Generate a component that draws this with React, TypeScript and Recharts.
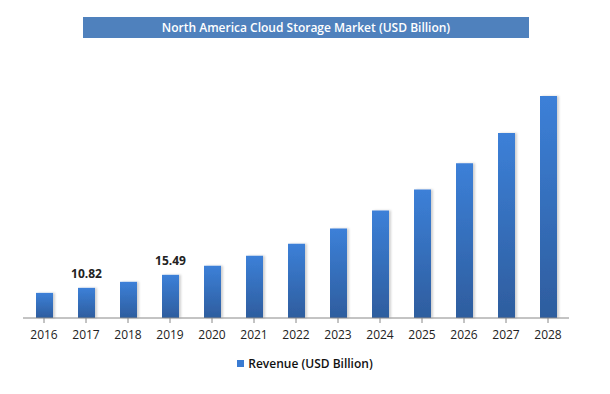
import { BarChart, Bar, XAxis, YAxis, Legend, LabelList } from 'recharts';

const years = ['2016', '2017', '2018', '2019', '2020', '2021', '2022', '2023', '2024', '2025', '2026', '2027', '2028'];
const revenue = [9.01, 10.82, 12.98, 15.49, 18.75, 22.35, 26.68, 32.08, 38.57, 46.14, 55.52, 66.33, 79.67];
const labelledYears = ['2017', '2019'];

const data = years.map((year, i) => ({ year, revenue: revenue[i] }));

const FONT = '"Open Sans", sans-serif';

const renderLabel = (props: any) => {
  const { x, y, width, value, index } = props;
  if (!labelledYears.includes(years[index])) return null;
  return (
    <text x={x + width / 2} y={y - 10} textAnchor="middle" fontFamily={FONT} fontSize={12} fontWeight="bold" fill="#222">
      {value.toFixed(2)}
    </text>
  );
};

const renderLegend = () => (
  <div style={{ display: 'flex', justifyContent: 'center', alignItems: 'center', fontFamily: FONT, fontSize: 12, fontWeight: 600, color: '#111' }}>
    <span style={{ display: 'inline-block', width: 7, height: 7, background: '#3A7BD2', marginRight: 4 }} />
    Revenue (USD Billion)
  </div>
);

const App = () => {
  return (
    <div style={{ position: 'absolute', left: 0, top: 0, width: 610, height: 394, background: '#fff' }}>
      <div
        style={{
          position: 'absolute', left: 83, top: 17, width: 446, height: 21,
          background: '#4F81BD', color: '#fff', fontFamily: FONT, fontSize: 12, fontWeight: 600,
          display: 'flex', alignItems: 'center', justifyContent: 'center',
        }}
      >
        North America Cloud Storage Market (USD Billion)
      </div>
      <BarChart width={610} height={394} data={data} margin={{ top: 95, right: 41, left: 23, bottom: 29 }}>
        <defs>
          <linearGradient id="barGrad" x1="0" y1="0" x2="0" y2="1">
            <stop offset="0%" stopColor="#3C80D8" />
            <stop offset="100%" stopColor="#2E5D9E" />
          </linearGradient>
          <filter id="barShadow" x="-30%" y="-5%" width="160%" height="110%">
            <feDropShadow dx="2" dy="0" stdDeviation="1.2" floodColor="#000" floodOpacity="0.18" />
          </filter>
        </defs>
        <XAxis
          dataKey="year"
          height={30}
          tickLine={{ stroke: '#888' }}
          axisLine={{ stroke: '#888' }}
          tickSize={5}
          tickMargin={7}
          tick={{ fontFamily: FONT, fontSize: 12, fill: '#222' }}
          interval={0}
        />
        <YAxis hide domain={[0, 80]} />
        <Legend content={renderLegend} wrapperStyle={{ position: 'absolute', top: 355, left: 0, width: 610 }} />
        <Bar dataKey="revenue" name="Revenue (USD Billion)" barSize={17} fill="url(#barGrad)" filter="url(#barShadow)" isAnimationActive={false}>
          <LabelList dataKey="revenue" content={renderLabel} />
        </Bar>
      </BarChart>
    </div>
  );
};

export default App;
